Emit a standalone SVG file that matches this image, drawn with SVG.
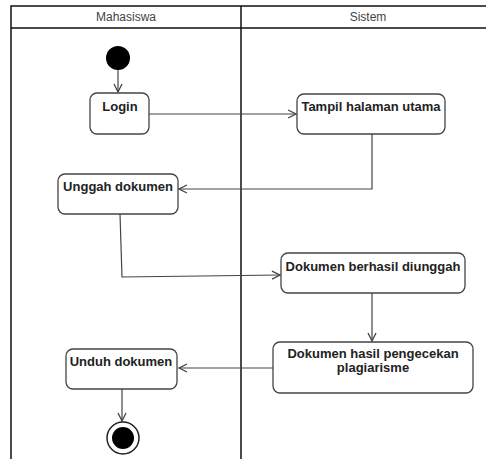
<svg xmlns="http://www.w3.org/2000/svg" width="486" height="459" viewBox="0 0 486 459">
<defs>
<style>
.lane{fill:none;stroke:#111;stroke-width:1.5}
.hdr{font-family:"Liberation Sans",Arial,sans-serif;font-size:12px;fill:#444;text-anchor:middle}
.box{fill:#fff;stroke:#444;stroke-width:1.3}
.lbl{font-family:"Liberation Sans",Arial,sans-serif;font-size:13px;font-weight:bold;fill:#222;text-anchor:middle}
.edge{fill:none;stroke:#444;stroke-width:1.2}
</style>
<marker id="arr" viewBox="0 0 10 10" refX="9" refY="5" markerWidth="10" markerHeight="10" markerUnits="userSpaceOnUse" orient="auto">
<polyline points="1,1 9,5 1,9" fill="none" stroke="#444" stroke-width="1.3"/>
</marker>
</defs>
<rect width="486" height="459" fill="#fff"/>
<g id="swimlanes">
<path class="lane" d="M11,459 V6 H495 M11,28 H495 M241,6 V459"/>
<text class="hdr" x="126" y="21">Mahasiswa</text>
<text class="hdr" x="368" y="21">Sistem</text>
</g>
<g id="connectors">
<path class="edge" d="M118,70 V92" marker-end="url(#arr)"/>
<path class="edge" d="M149,114 H296" marker-end="url(#arr)"/>
<path class="edge" d="M372,134 V189 H179" marker-end="url(#arr)"/>
<path class="edge" d="M120,214 L122,277 L280,275" marker-end="url(#arr)"/>
<path class="edge" d="M372,293 V341" marker-end="url(#arr)"/>
<path class="edge" d="M273,368 H179" marker-end="url(#arr)"/>
<path class="edge" d="M122,389 V421" marker-end="url(#arr)"/>
</g>
<g id="start"><circle cx="118" cy="58" r="12" fill="#000"/></g>
<g id="login"><rect class="box" x="90" y="93" width="59" height="41" rx="7"/><text class="lbl" x="120" y="111">Login</text></g>
<g id="tampil"><rect class="box" x="297" y="94" width="148" height="40" rx="7"/><text class="lbl" x="371" y="111">Tampil halaman utama</text></g>
<g id="unggah"><rect class="box" x="58" y="174" width="120" height="40" rx="7"/><text class="lbl" x="118" y="191">Unggah dokumen</text></g>
<g id="berhasil"><rect class="box" x="281" y="253" width="184" height="40" rx="7"/><text class="lbl" x="373" y="271">Dokumen berhasil diunggah</text></g>
<g id="hasil"><rect class="box" x="273" y="342" width="200" height="51" rx="7"/><text class="lbl" x="373" y="358">Dokumen hasil pengecekan</text><text class="lbl" x="373" y="372">plagiarisme</text></g>
<g id="unduh"><rect class="box" x="66" y="349" width="111" height="40" rx="7"/><text class="lbl" x="121" y="366">Unduh dokumen</text></g>
<g id="end"><circle cx="123" cy="438" r="16" fill="#fff" stroke="#222" stroke-width="1.5"/><circle cx="123" cy="438" r="11" fill="#000"/></g>
</svg>
